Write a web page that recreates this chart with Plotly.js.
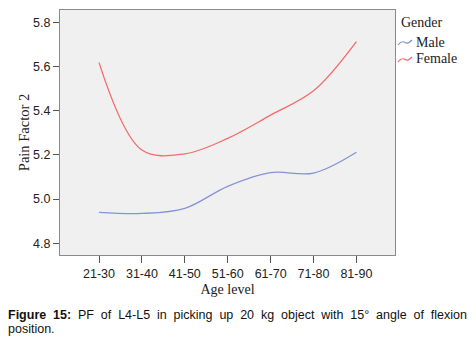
<!DOCTYPE html>
<html>
<head>
<meta charset="utf-8">
<script src="https://cdn.plot.ly/plotly-3.0.1.min.js"></script>
<style>
html,body{margin:0;padding:0;background:#fff;}
#chart{width:476px;height:349px;}
</style>
</head>
<body>
<div id="chart"></div>
<script>
var ageLevels = ["21-30","31-40","41-50","51-60","61-70","71-80","81-90"];
var maleValues = [4.94, 4.935, 4.958, 5.058, 5.12, 5.118, 5.212];
var femaleValues = [5.618, 5.222, 5.205, 5.275, 5.38, 5.49, 5.713];
var yTicks = [4.8, 5.0, 5.2, 5.4, 5.6, 5.8];
var yTickLabels = ["4.8","5.0","5.2","5.4","5.6","5.8"];

var maleColor = "#8394d6";
var femaleColor = "#f56a6c";

// plot area in pixels
var L = 60, R = 395, T = 10, B = 255;
function px(x){ return (x - L) / (R - L); }
function py(y){ return (B - y) / (B - T); }
function wave(x0, yc){
  return "M " + px(x0) + "," + py(yc+3) +
    " C " + px(x0+3) + "," + py(yc-1) + " " + px(x0+5) + "," + py(yc-1) + " " + px(x0+8) + "," + py(yc+1) +
    " C " + px(x0+10) + "," + py(yc+2) + " " + px(x0+12) + "," + py(yc) + " " + px(x0+14) + "," + py(yc-2);
}

var traces = [
  {x: ageLevels, y: maleValues, type: "scatter", mode: "lines", name: "Male",
   line: {color: maleColor, width: 1.3, shape: "spline", smoothing: 1}, showlegend: false, hoverinfo: "skip"},
  {x: ageLevels, y: femaleValues, type: "scatter", mode: "lines", name: "Female",
   line: {color: femaleColor, width: 1.3, shape: "spline", smoothing: 1}, showlegend: false, hoverinfo: "skip"}
];

var serif = "Liberation Serif, Times New Roman, serif";
var sans = "Liberation Sans, Arial, sans-serif";

var layout = {
  width: 476, height: 349,
  margin: {l: L, r: 476 - R, t: T, b: 349 - B, pad: 0},
  paper_bgcolor: "#ffffff",
  plot_bgcolor: "#f0f0f0",
  showlegend: false,
  xaxis: {
    type: "category",
    range: [-0.91, 6.9],
    showgrid: false, zeroline: false,
    showline: true, linecolor: "#8a8a8a", linewidth: 1, mirror: true,
    ticks: "outside", ticklen: 7, tickcolor: "#555", tickwidth: 1,
    tickfont: {family: sans, size: 12.5, color: "#222"},
    title: {text: "Age level", font: {family: serif, size: 14, color: "#222"}, standoff: 4}
  },
  yaxis: {
    range: [4.747, 5.856],
    tickvals: yTicks, ticktext: yTickLabels,
    showgrid: false, zeroline: false,
    showline: true, linecolor: "#8a8a8a", linewidth: 1, mirror: true,
    ticks: "outside", ticklen: 6, tickcolor: "#555", tickwidth: 1,
    tickfont: {family: sans, size: 12.5, color: "#222"},
    title: {text: "Pain Factor 2", font: {family: serif, size: 14.5, color: "#222"}, standoff: 0}
  },
  shapes: [
    {type: "path", xref: "paper", yref: "paper", path: wave(398, 42), line: {color: maleColor, width: 1.2}},
    {type: "path", xref: "paper", yref: "paper", path: wave(398, 59), line: {color: femaleColor, width: 1.2}}
  ],
  annotations: [
    {xref: "paper", yref: "paper", x: px(399), y: py(22), xanchor: "left", yanchor: "middle", showarrow: false,
     text: "Gender", font: {family: serif, size: 14, color: "#222"}},
    {xref: "paper", yref: "paper", x: px(414), y: py(42), xanchor: "left", yanchor: "middle", showarrow: false,
     text: "Male", font: {family: serif, size: 14, color: "#222"}},
    {xref: "paper", yref: "paper", x: px(414), y: py(59), xanchor: "left", yanchor: "middle", showarrow: false,
     text: "Female", font: {family: serif, size: 14, color: "#222"}},
    {xref: "paper", yref: "paper", x: px(6), y: py(315), xanchor: "left", yanchor: "middle", showarrow: false,
     text: "<span style=\"word-spacing:3.4px\"><b>Figure 15:</b> PF of L4-L5 in picking up 20 kg object with 15° angle of flexion</span>", font: {family: sans, size: 12.5, color: "#111"}},
    {xref: "paper", yref: "paper", x: px(6), y: py(329), xanchor: "left", yanchor: "middle", showarrow: false,
     text: "position.", font: {family: sans, size: 12.5, color: "#111"}}
  ]
};

Plotly.newPlot("chart", traces, layout, {staticPlot: true, displayModeBar: false});
</script>
</body>
</html>
